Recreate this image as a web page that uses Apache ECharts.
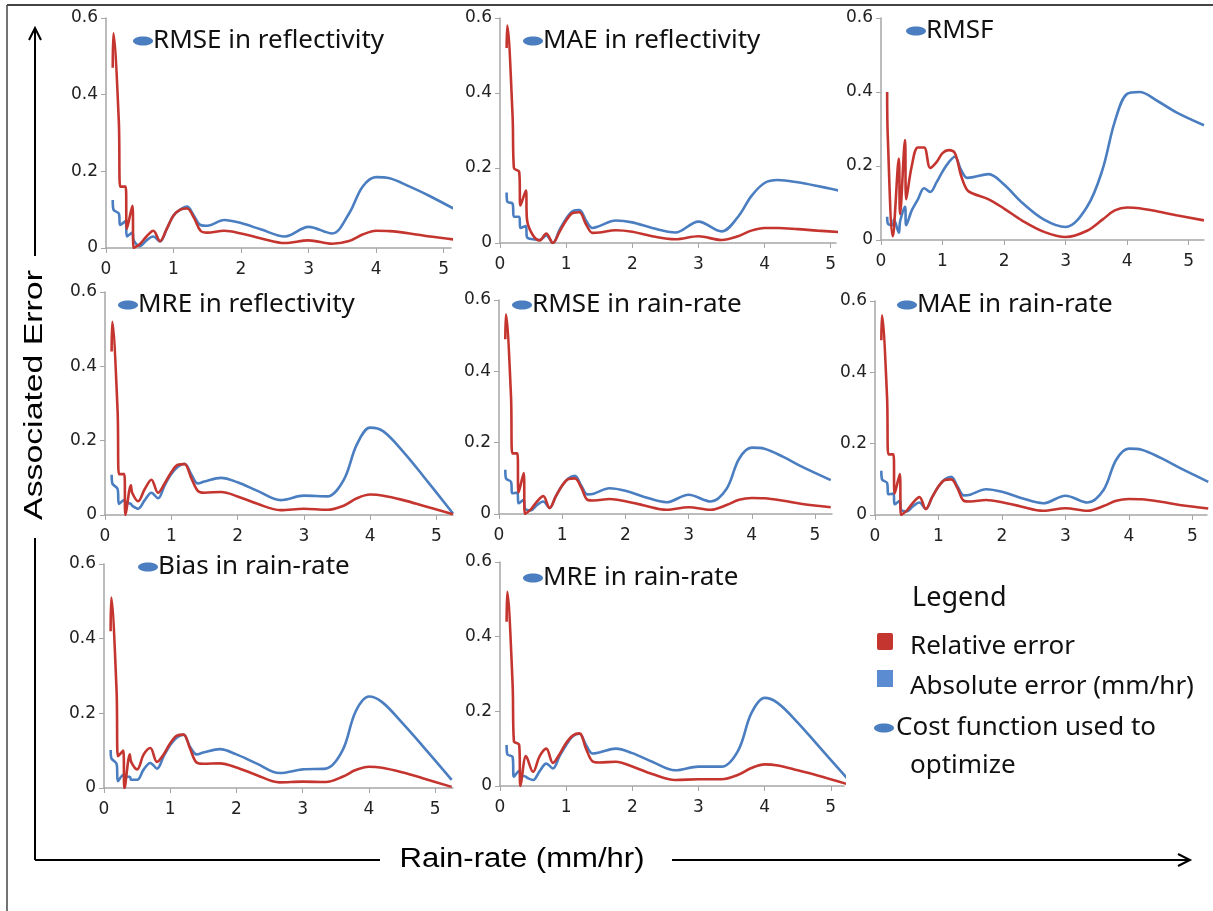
<!DOCTYPE html>
<html><head><meta charset="utf-8">
<script src="https://cdn.jsdelivr.net/npm/echarts@6/dist/echarts.min.js"></script>
<style>html,body{margin:0;padding:0;background:#fff}#c{width:1213px;height:911px}</style>
</head><body><div id="c"></div>
<script>
// Shared rain-rate sample points (mm/hr)
const rainRate = [0.1,0.11,0.19,0.21,0.29,0.31,0.39,0.41,0.5,0.6,0.7,0.8,0.9,1.0,1.1,1.2,1.3,1.4,1.5,1.75,2.0,2.3,2.65,3.0,3.35,3.6,3.8,4.0,4.2,4.5,4.8,5.25];
const xTickValues = [0,1,2,3,4,5];
const yTickValues = [0,0.2,0.4,0.6];
const panelTitles = ["RMSE in reflectivity","MAE in reflectivity","RMSF","MRE in reflectivity","RMSE in rain-rate","MAE in rain-rate","Bias in rain-rate","MRE in rain-rate"];
const legendLabels = ["Relative error","Absolute error (mm/hr)","Cost function used to","optimize"];

// Relative error (red) per panel
const rel1 = [0.47,0.56,0.33,0.16,0.16,0.05,0.11,0.0,0.01,0.03,0.045,0.018,0.05,0.085,0.1,0.103,0.08,0.045,0.04,0.045,0.038,0.025,0.013,0.02,0.011,0.018,0.035,0.045,0.044,0.038,0.03,0.02];
const rel2 = [0.52,0.58,0.34,0.2,0.19,0.1,0.14,0.06,0.02,0.007,0.025,0.0,0.03,0.06,0.08,0.082,0.05,0.027,0.028,0.034,0.03,0.018,0.01,0.018,0.008,0.018,0.033,0.04,0.04,0.037,0.033,0.028];
const rel3 = [0.4,0.28,0.01,0.03,0.22,0.07,0.27,0.11,0.2,0.25,0.25,0.195,0.21,0.235,0.243,0.235,0.175,0.135,0.125,0.11,0.085,0.052,0.022,0.008,0.025,0.055,0.08,0.088,0.086,0.077,0.067,0.053];
const rel4 = [0.44,0.52,0.28,0.11,0.11,0.0,0.08,0.06,0.037,0.07,0.095,0.06,0.085,0.115,0.135,0.137,0.1,0.065,0.06,0.062,0.05,0.03,0.013,0.017,0.014,0.025,0.045,0.055,0.052,0.04,0.025,0.002];
const rel5 = [0.49,0.56,0.33,0.17,0.17,0.06,0.115,0.0,0.012,0.035,0.05,0.017,0.05,0.08,0.098,0.1,0.075,0.04,0.038,0.042,0.036,0.024,0.012,0.019,0.012,0.025,0.04,0.045,0.044,0.037,0.028,0.019];
const rel6 = [0.49,0.56,0.33,0.17,0.17,0.06,0.115,0.0,0.012,0.035,0.05,0.017,0.05,0.08,0.098,0.1,0.075,0.04,0.038,0.042,0.036,0.024,0.012,0.019,0.012,0.025,0.04,0.045,0.044,0.037,0.028,0.018];
const rel7 = [0.42,0.51,0.26,0.085,0.1,0.0,0.09,0.07,0.05,0.09,0.107,0.07,0.09,0.12,0.14,0.143,0.105,0.068,0.065,0.066,0.055,0.035,0.015,0.017,0.016,0.03,0.048,0.057,0.054,0.042,0.027,0.003];
const rel8 = [0.44,0.52,0.275,0.12,0.11,0.0,0.08,0.075,0.038,0.08,0.1,0.062,0.085,0.115,0.135,0.141,0.1,0.066,0.063,0.065,0.052,0.032,0.016,0.018,0.018,0.03,0.048,0.058,0.055,0.042,0.028,0.005];

// Absolute error (blue) per panel
const abs1 = [0.125,0.1,0.09,0.06,0.07,0.03,0.04,0.02,0.005,0.02,0.03,0.017,0.05,0.085,0.1,0.108,0.085,0.06,0.058,0.073,0.065,0.048,0.03,0.055,0.038,0.09,0.16,0.185,0.182,0.16,0.135,0.093];
const abs2 = [0.135,0.11,0.105,0.07,0.07,0.04,0.045,0.015,0.01,0.008,0.02,0.0,0.035,0.065,0.085,0.088,0.06,0.04,0.045,0.06,0.055,0.04,0.028,0.057,0.031,0.07,0.125,0.16,0.168,0.162,0.152,0.135];
const abs3 = [0.063,0.045,0.04,0.055,0.02,0.05,0.09,0.04,0.08,0.11,0.14,0.13,0.155,0.185,0.21,0.225,0.19,0.168,0.17,0.178,0.15,0.1,0.055,0.035,0.09,0.19,0.32,0.395,0.4,0.375,0.345,0.31];
const abs4 = [0.108,0.085,0.07,0.03,0.04,0.035,0.03,0.025,0.017,0.04,0.06,0.045,0.08,0.11,0.13,0.138,0.11,0.085,0.09,0.1,0.088,0.065,0.04,0.052,0.05,0.094,0.19,0.235,0.225,0.17,0.105,0.004];
const abs5 = [0.124,0.1,0.09,0.058,0.06,0.03,0.04,0.015,0.01,0.025,0.035,0.017,0.05,0.08,0.1,0.107,0.08,0.055,0.057,0.072,0.065,0.048,0.033,0.054,0.035,0.07,0.155,0.186,0.183,0.16,0.132,0.095];
const abs6 = [0.124,0.1,0.09,0.058,0.06,0.03,0.04,0.015,0.01,0.025,0.035,0.017,0.05,0.08,0.1,0.107,0.08,0.055,0.057,0.072,0.065,0.048,0.033,0.054,0.035,0.07,0.155,0.186,0.183,0.16,0.132,0.093];
const abs7 = [0.102,0.08,0.065,0.018,0.035,0.03,0.03,0.022,0.022,0.05,0.067,0.052,0.085,0.115,0.135,0.143,0.11,0.09,0.095,0.104,0.09,0.066,0.04,0.05,0.052,0.1,0.205,0.245,0.23,0.175,0.115,0.022];
const abs8 = [0.11,0.085,0.078,0.025,0.04,0.03,0.025,0.022,0.016,0.04,0.06,0.047,0.08,0.11,0.133,0.14,0.11,0.087,0.09,0.1,0.088,0.065,0.042,0.052,0.052,0.095,0.195,0.236,0.222,0.17,0.11,0.02];

const relSeries = [rel1,rel2,rel3,rel4,rel5,rel6,rel7,rel8];
const absSeries = [abs1,abs2,abs3,abs4,abs5,abs6,abs7,abs8];

// layout (pixels) for each panel: left, top, width, height, xmax, title marker x, title y
const layout = [
  {l:106,t:18,w:345,h:230,xmax:5.11,mx:133,my:41},
  {l:500,t:18,w:336,h:225,xmax:5.08,mx:523,my:41},
  {l:881,t:18,w:323,h:222,xmax:5.25,mx:906,my:31},
  {l:105,t:292,w:348,h:223,xmax:5.25,mx:118,my:305},
  {l:499,t:300,w:333,h:214,xmax:5.27,mx:512,my:305},
  {l:875,t:301,w:332,h:214,xmax:5.23,mx:897,my:305},
  {l:104,t:564,w:349,h:224,xmax:5.27,mx:138,my:567},
  {l:500,t:562,w:344,h:224,xmax:5.2,mx:523,my:578}
];

const RED = '#C5352F', BLUE = '#4A7EC0', AXIS = '#A6A6A6';
const LBL_FONT = '"Noto Sans", "Open Sans", sans-serif';
const TICK_FONT = '"DejaVu Sans", "Liberation Sans", sans-serif';

const grid=[], xAxis=[], yAxis=[], series=[], graphic=[];
layout.forEach((p,i)=>{
  grid.push({left:p.l, top:p.t, width:p.w, height:p.h, containLabel:false});
  xAxis.push({type:'value', gridIndex:i, min:0, max:p.xmax, interval:1,
    axisLine:{lineStyle:{color:AXIS,width:1.5}},
    axisTick:{show:true,length:5,customValues:xTickValues,lineStyle:{color:AXIS}},
    axisLabel:{customValues:xTickValues,color:'#222',fontSize:17,fontFamily:TICK_FONT,margin:13},
    splitLine:{show:false}});
  yAxis.push({type:'value', gridIndex:i, min:0, max:0.6, interval:0.2,
    axisLine:{show:true,lineStyle:{color:AXIS,width:1.5}},
    axisTick:{show:true,length:5,lineStyle:{color:AXIS}},
    axisLabel:{color:'#222',fontSize:17,fontFamily:TICK_FONT,margin:8,
      formatter:v=> v===0?'0':v.toFixed(1)},
    splitLine:{show:false}});
  series.push({type:'line', xAxisIndex:i, yAxisIndex:i, smooth:0.35, showSymbol:false,
    data: rainRate.map((x,k)=>[x,absSeries[i][k]]),
    lineStyle:{color:BLUE,width:2.6}, itemStyle:{color:BLUE}, z:2});
  series.push({type:'line', xAxisIndex:i, yAxisIndex:i, smooth:0.35, showSymbol:false,
    data: rainRate.map((x,k)=>[x,relSeries[i][k]]),
    lineStyle:{color:RED,width:2.6}, itemStyle:{color:RED}, z:3});
  graphic.push({type:'ellipse', shape:{cx:p.mx+10, cy:p.my, rx:10, ry:4.5}, style:{fill:BLUE}, z:10});
  graphic.push({type:'text', x:p.mx+20, y:p.my, style:{text:panelTitles[i], fill:'#111', font:'26px '+LBL_FONT, textVerticalAlign:'middle', textBaseline:'middle'}, z:10});
});

// frame
graphic.push({type:'line', shape:{x1:7,y1:5,x2:1213,y2:5}, style:{stroke:'#444',lineWidth:2}});
graphic.push({type:'line', shape:{x1:7,y1:5,x2:7,y2:911}, style:{stroke:'#444',lineWidth:1.5}});
// axis arrows
const AX = 35, BY = 860;
graphic.push({type:'line', shape:{x1:AX,y1:256,x2:AX,y2:28}, style:{stroke:'#000',lineWidth:2}});
graphic.push({type:'polyline', shape:{points:[[AX-6,40],[AX,28],[AX+6,40]]}, style:{stroke:'#000',lineWidth:2,fill:null}});
graphic.push({type:'line', shape:{x1:AX,y1:538,x2:AX,y2:BY}, style:{stroke:'#000',lineWidth:2}});
graphic.push({type:'line', shape:{x1:AX,y1:BY,x2:380,y2:BY}, style:{stroke:'#000',lineWidth:2}});
graphic.push({type:'line', shape:{x1:672,y1:BY,x2:1190,y2:BY}, style:{stroke:'#000',lineWidth:2}});
graphic.push({type:'polyline', shape:{points:[[1178,854],[1190,BY],[1178,866]]}, style:{stroke:'#000',lineWidth:2,fill:null}});
graphic.push({type:'text', x:AX, y:395, rotation:Math.PI/2, scaleX:1.3, style:{text:'Associated Error', fill:'#000', font:'26px "Liberation Sans", sans-serif', textAlign:'center', textVerticalAlign:'middle', textBaseline:'middle'}});
graphic.push({type:'text', x:522, y:BY, scaleX:1.15, style:{text:'Rain-rate (mm/hr)', fill:'#000', font:'27px "Liberation Sans", sans-serif', textAlign:'center', textVerticalAlign:'middle', textBaseline:'middle'}});

// legend box
graphic.push({type:'text', x:912, y:598, style:{text:'Legend', fill:'#111', font:'27px '+LBL_FONT, textVerticalAlign:'middle', textBaseline:'middle'}});
graphic.push({type:'rect', shape:{x:877,y:633,width:16,height:17,r:2}, style:{fill:RED}});
graphic.push({type:'text', x:910, y:647, style:{text:legendLabels[0], fill:'#111', font:'26px '+LBL_FONT, textVerticalAlign:'middle', textBaseline:'middle'}});
graphic.push({type:'rect', shape:{x:877,y:670,width:16,height:17}, style:{fill:'#5B8BD0'}});
graphic.push({type:'text', x:910, y:687, style:{text:legendLabels[1], fill:'#111', font:'26px '+LBL_FONT, textVerticalAlign:'middle', textBaseline:'middle'}});
graphic.push({type:'ellipse', shape:{cx:884, cy:728, rx:10, ry:4.5}, style:{fill:BLUE}});
graphic.push({type:'text', x:896, y:728, style:{text:legendLabels[2], fill:'#111', font:'26px '+LBL_FONT, textVerticalAlign:'middle', textBaseline:'middle'}});
graphic.push({type:'text', x:910, y:766, style:{text:legendLabels[3], fill:'#111', font:'26px '+LBL_FONT, textVerticalAlign:'middle', textBaseline:'middle'}});

const chart = echarts.init(document.getElementById('c'), null, {renderer:'canvas'});
chart.setOption({backgroundColor:'#fff', animation:false, grid, xAxis, yAxis, series, graphic});
</script></body></html>
